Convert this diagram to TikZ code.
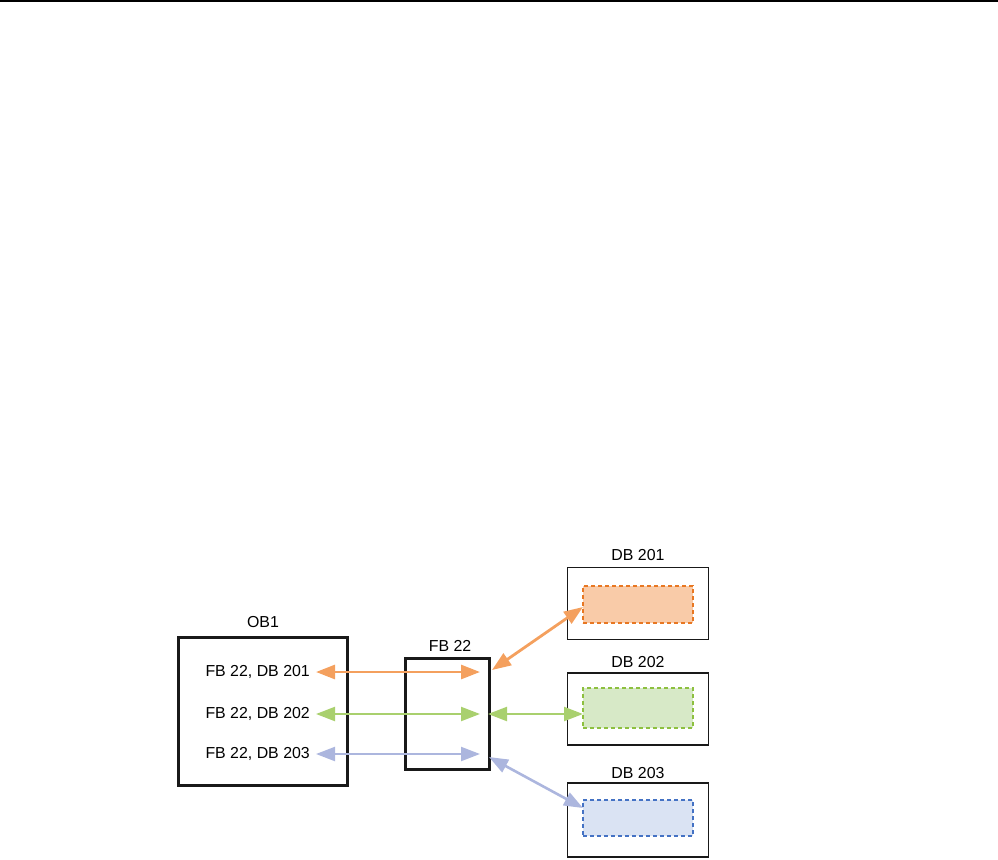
\documentclass[tikz,border=0pt]{standalone}
\usepackage{fontspec}
\setmainfont{Liberation Sans}
\usetikzlibrary{arrows.meta}
\definecolor{oarr}{RGB}{244,160,94}
\definecolor{odash}{RGB}{232,119,34}
\definecolor{ofill}{RGB}{249,203,168}
\definecolor{garr}{RGB}{169,208,110}
\definecolor{gdash}{RGB}{141,192,63}
\definecolor{gfill}{RGB}{215,233,199}
\definecolor{barr}{RGB}{172,182,222}
\definecolor{bdash}{RGB}{68,114,196}
\definecolor{bfill}{RGB}{218,227,243}
\tikzset{
  lbl/.style={font=\fontsize{15.9}{19}\selectfont, inner sep=0pt},
  mainbox/.style={draw=black!90, line width=3pt, inner sep=0pt},
  dbbox/.style={draw=black!90, line width=1.6pt, inner sep=0pt, minimum width=141pt, minimum height=72pt},
  inbox/.style={line width=2.2pt, dash pattern=on 4pt off 3pt, inner sep=0pt, minimum width=110pt, minimum height=37pt},
  link/.style={{Triangle[length=19pt,width=14pt]}-{Triangle[length=19pt,width=14pt]}, line width=2.2pt},
}
\begin{document}
\begin{tikzpicture}[x=1pt,y=-1pt]
\useasboundingbox (0,0) rectangle (998,859);
\coordinate (tl) at (0,1);
\coordinate (tr) at (998,1);
\draw[line width=2pt] (tl) -- (tr);

% OB1
\node[mainbox, minimum width=169pt, minimum height=148pt] (ob) at (262.5,711) {};
\node[lbl] (oblbl) at (263,622) {OB1};
\node[lbl, anchor=east] (t1) at (310,672) {FB 22, DB 201};
\node[lbl, anchor=east] (t2) at (310,714) {FB 22, DB 202};
\node[lbl, anchor=east] (t3) at (310,754) {FB 22, DB 203};

% FB22
\node[mainbox, minimum width=84pt, minimum height=111pt] (fb) at (447,713.5) {};
\node[lbl] (fblbl) at (450,646) {FB 22};

% DBs
\node[dbbox] (db1) at (638,603.5) {};
\node[lbl] (db1lbl) at (638,555) {DB 201};
\node[inbox, draw=odash, fill=ofill] (in1) at (638,604.5) {};

\node[dbbox] (db2) at (638,709) {};
\node[lbl] (db2lbl) at (638,662) {DB 202};
\node[inbox, draw=gdash, fill=gfill, minimum height=40pt] (in2) at (638,708) {};

\node[dbbox, minimum height=74pt] (db3) at (638,820) {};
\node[lbl] (db3lbl) at (638,773) {DB 203};
\node[inbox, draw=bdash, fill=bfill, minimum height=36pt] (in3) at (638,818) {};

% arrow end points
\coordinate (a1l) at (316,672);
\coordinate (a1r) at (480,672);
\coordinate (a2l) at (316,714);
\coordinate (a2r) at (480,714);
\coordinate (a3l) at (316,754);
\coordinate (a3r) at (480,754);
\coordinate (d1a) at (492,670);
\coordinate (d2a) at (488,714);
\coordinate (d3a) at (489,757);
\coordinate (d1b) at (583,607);
\coordinate (d2b) at (583,714);
\coordinate (d3b) at (583,808);

\draw[link, draw=oarr, fill=oarr, line width=2.8pt] (a1l) -- (a1r);
\draw[link, draw=garr, fill=garr] (a2l) -- (a2r);
\draw[link, draw=barr, fill=barr] (a3l) -- (a3r);
\draw[link, draw=oarr, fill=oarr, line width=2.8pt] (d1a) -- (d1b);
\draw[link, draw=garr, fill=garr] (d2a) -- (d2b);
\draw[link, draw=barr, fill=barr, line width=2.6pt] (d3a) -- (d3b);
\end{tikzpicture}
\end{document}
